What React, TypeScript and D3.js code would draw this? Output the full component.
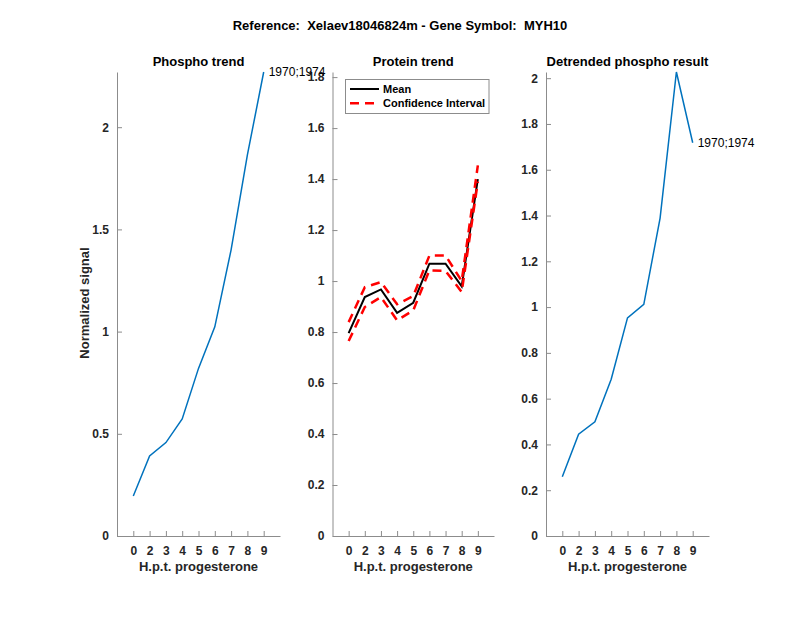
import { useRef, useEffect } from "react";
import * as d3 from "d3";

// categories (hours post progesterone), placed at positions 1..9
const hours = ["0", "2", "3", "4", "5", "6", "7", "8", "9"];

const phosphoTrend = [0.196, 0.392, 0.457, 0.573, 0.82, 1.023, 1.4, 1.865, 2.27];
const proteinMean = [0.796, 0.937, 0.967, 0.875, 0.915, 1.068, 1.068, 0.979, 1.4];
const proteinUpper = [0.839, 0.976, 0.996, 0.909, 0.941, 1.1, 1.1, 1.0, 1.454];
const proteinLower = [0.765, 0.898, 0.937, 0.846, 0.885, 1.042, 1.04, 0.957, 1.39];
const detrended = [0.259, 0.445, 0.499, 0.685, 0.953, 1.012, 1.389, 2.027, 1.718];

const phosphoTicks = [0, 0.5, 1, 1.5, 2];
const proteinTicks = [0, 0.2, 0.4, 0.6, 0.8, 1, 1.2, 1.4, 1.6, 1.8];
const detrendTicks = [0, 0.2, 0.4, 0.6, 0.8, 1, 1.2, 1.4, 1.6, 1.8, 2];

const peptideLabel = "1970;1974";

const W = 800;
const H = 618;
const FONT = "'Liberation Sans', Arial, Helvetica, sans-serif";
const TEXT = "#262626";
const AXIS = "#8c8c8c";
const BLUE = "#0072BD";

export default function App() {
    const svgRef = useRef<SVGSVGElement | null>(null);

    useEffect(() => {
        if (!svgRef.current) return;
        const svg = d3.select(svgRef.current);
        svg.selectAll("*").remove();

        const top = 72;
        const bottom = 536;

        svg.append("text")
            .attr("x", 400)
            .attr("y", 30)
            .attr("text-anchor", "middle")
            .attr("font-family", FONT)
            .attr("font-weight", "bold")
            .attr("font-size", 13)
            .attr("fill", "#000")
            .attr("xml:space", "preserve")
            .text("Reference:  Xelaev18046824m - Gene Symbol:  MYH10");

        const makePanel = (left: number, right: number, ymax: number, ticks: number[], title: string, tickFmt: (v: number) => string) => {
            const x = d3.scaleLinear().domain([0, 10]).range([left, right]);
            const y = d3.scaleLinear().domain([0, ymax]).range([bottom, top]);
            const g = svg.append("g");

            // x axis
            const xa = g.append("g")
                .attr("transform", `translate(0,${bottom})`)
                .call(
                    d3.axisBottom(x)
                        .tickValues(d3.range(1, 10))
                        .tickSizeInner(-5)
                        .tickSizeOuter(0)
                        .tickPadding(10)
                        .tickFormat((d) => hours[Number(d) - 1])
                );
            // y axis
            const ya = g.append("g")
                .attr("transform", `translate(${left},0)`)
                .call(
                    d3.axisLeft(y)
                        .tickValues(ticks)
                        .tickSizeInner(-5)
                        .tickSizeOuter(0)
                        .tickPadding(8)
                        .tickFormat((d) => tickFmt(Number(d)))
                );
            [xa, ya].forEach(a => {
                a.select(".domain").attr("stroke", AXIS).attr("stroke-width", 1);
                a.selectAll(".tick line").attr("stroke", AXIS);
                a.selectAll(".tick text")
                    .attr("fill", TEXT)
                    .attr("font-family", FONT)
                    .attr("font-weight", "bold")
                    .attr("font-size", 12);
            });

            g.append("text")
                .attr("x", (left + right) / 2)
                .attr("y", 571)
                .attr("text-anchor", "middle")
                .attr("font-family", FONT)
                .attr("font-weight", "bold")
                .attr("font-size", 13)
                .attr("fill", TEXT)
                .text("H.p.t. progesterone");

            g.append("text")
                .attr("x", (left + right) / 2)
                .attr("y", 66)
                .attr("text-anchor", "middle")
                .attr("font-family", FONT)
                .attr("font-weight", "bold")
                .attr("font-size", 13)
                .attr("fill", "#000")
                .text(title);

            return { x, y, g };
        };

        const fmt = (v: number) => (v === 0 ? "0" : String(+v.toFixed(1)));

        const line = (x: d3.ScaleLinear<number, number>, y: d3.ScaleLinear<number, number>) =>
            d3.line<number>().x((_, i) => x(i + 1)).y(d => y(d));

        // Panel 1: phospho trend
        const p1 = makePanel(117, 280, 2.27, phosphoTicks, "Phospho trend", fmt);
        p1.g.append("path")
            .attr("d", line(p1.x, p1.y)(phosphoTrend))
            .attr("fill", "none")
            .attr("stroke", BLUE)
            .attr("stroke-width", 1.5);

        // y label
        svg.append("text")
            .attr("transform", "translate(89,303) rotate(-90)")
            .attr("text-anchor", "middle")
            .attr("font-family", FONT)
            .attr("font-weight", "bold")
            .attr("font-size", 13)
            .attr("fill", TEXT)
            .text("Normalized signal");

        // Panel 2: protein trend
        const p2 = makePanel(332.5, 494, 1.82, proteinTicks, "Protein trend", fmt);
        p2.g.append("path")
            .attr("d", line(p2.x, p2.y)(proteinMean))
            .attr("fill", "none")
            .attr("stroke", "#000")
            .attr("stroke-width", 2);
        [proteinUpper, proteinLower].forEach(s => {
            p2.g.append("path")
                .attr("d", line(p2.x, p2.y)(s))
                .attr("fill", "none")
                .attr("stroke", "#ff0000")
                .attr("stroke-width", 2.5)
                .attr("stroke-dasharray", "9,6");
        });

        // Panel 3: detrended
        const p3 = makePanel(546, 709, 2.027, detrendTicks, "Detrended phospho result", fmt);
        p3.g.append("path")
            .attr("d", line(p3.x, p3.y)(detrended))
            .attr("fill", "none")
            .attr("stroke", BLUE)
            .attr("stroke-width", 1.5);

        // peptide labels at last point
        [
            { p: p1, v: phosphoTrend[8] },
            { p: p3, v: detrended[8] },
        ].forEach(({ p, v }) => {
            svg.append("text")
                .attr("x", p.x(9) + 5)
                .attr("y", p.y(v))
                .attr("dy", "0.35em")
                .attr("font-family", FONT)
                .attr("font-size", 12)
                .attr("fill", "#000")
                .text(peptideLabel);
        });

        // legend
        const lg = svg.append("g");
        lg.append("rect")
            .attr("x", 345.5)
            .attr("y", 79.5)
            .attr("width", 143.5)
            .attr("height", 34)
            .attr("fill", "#fff")
            .attr("stroke", AXIS)
            .attr("stroke-width", 1);
        const items = [
            { label: "Mean", color: "#000", dash: null as string | null, w: 2 },
            { label: "Confidence Interval", color: "#ff0000", dash: "9,6", w: 2.5 },
        ];
        items.forEach((it, i) => {
            const yy = 89 + i * 14.3;
            const l = lg.append("line")
                .attr("x1", 350)
                .attr("x2", 379)
                .attr("y1", yy)
                .attr("y2", yy)
                .attr("stroke", it.color)
                .attr("stroke-width", it.w);
            if (it.dash) l.attr("stroke-dasharray", it.dash);
            lg.append("text")
                .attr("x", 383)
                .attr("y", yy)
                .attr("dy", "0.35em")
                .attr("font-family", FONT)
                .attr("font-weight", "bold")
                .attr("font-size", 11)
                .attr("fill", "#000")
                .text(it.label);
        });
    }, []);

    return (
        <svg
            ref={svgRef}
            width={W}
            height={H}
            style={{ position: "absolute", left: 0, top: 0, background: "#fff" }}
        />
    );
}
